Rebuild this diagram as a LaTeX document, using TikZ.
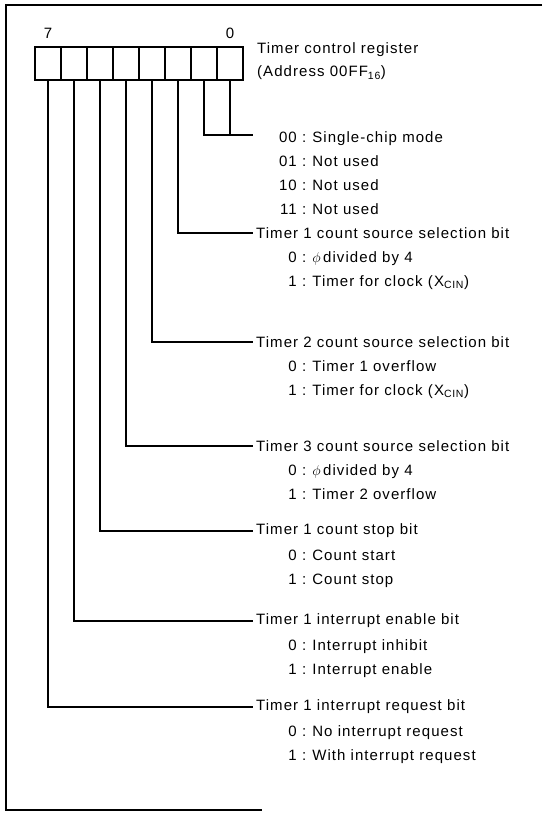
\documentclass[tikz,border=0pt]{standalone}
\usepackage{fontspec}
\setmainfont{Liberation Sans}[LetterSpace=7]
\usepackage{tikz}
\usetikzlibrary{positioning}

\begin{document}
\begin{tikzpicture}[x=1pt, y=-1pt, font=\fontsize{15}{17}\selectfont,
    cell/.style={draw, line width=1.5pt, minimum width=26pt, minimum height=33pt, inner sep=0pt},
    wire/.style={line width=1.1pt},
    head/.style={anchor=west, inner sep=3pt},
    code/.style={anchor=base east, inner sep=1pt},
    desc/.style={anchor=base west, inner sep=1pt}]
    \useasboundingbox (0,0) rectangle (542,817);
    % Frame (open on the right)
    \draw[line width=2.4pt] (542,5) -- (6,5) -- (6,810) -- (262,810);
    % Register cells, bit 7 on the left
    \foreach \i in {0,...,7}
        \node[cell] (b\i) at ({48+(7-\i)*26},63.5) {};
    \node[above=4pt of b7] (n7) {7};
    \node[above=4pt of b0] (n0) {0};
    \node[head] (reg) at (254,50) {Timer control register};
    \node[head] (adr) at (254,73) {(Address 00FF\textsubscript{16})};
    % Bits 1 and 0
    \coordinate (m10) at (253,135);
    \draw[wire] (b1.south) |- (m10);
    \draw[wire] (b0.south) -- (b0.south |- m10);
    \node[code] (c00) at (298,142) {00}; \node[desc] (d00) at (c00.base east) {\hspace{3pt}:\hspace{6pt}Single-chip mode};
    \node[code] (c01) at (298,166) {01}; \node[desc] (d01) at (c01.base east) {\hspace{3pt}:\hspace{6pt}Not used};
    \node[code] (c10) at (298,190) {10}; \node[desc] (d10) at (c10.base east) {\hspace{3pt}:\hspace{6pt}Not used};
    \node[code] (c11) at (298,214) {11}; \node[desc] (d11) at (c11.base east) {\hspace{3pt}:\hspace{6pt}Not used};
    % Bit 2
    \node[head] (hd2) at (253,233) {Timer 1 count source selection bit};
    \draw[wire] (b2.south) |- (hd2.west);
    \node[code] (c20) at (298,262) {0}; \node[desc] (d20) at (c20.base east) {\hspace{3pt}:\hspace{6pt}$\phi$\,divided by 4};
    \node[code] (c21) at (298,286) {1}; \node[desc] (d21) at (c21.base east) {\hspace{3pt}:\hspace{6pt}Timer for clock (X\textsubscript{CIN})};
    % Bit 3
    \node[head] (hd3) at (253,342) {Timer 2 count source selection bit};
    \draw[wire] (b3.south) |- (hd3.west);
    \node[code] (c30) at (298,371) {0}; \node[desc] (d30) at (c30.base east) {\hspace{3pt}:\hspace{6pt}Timer 1 overflow};
    \node[code] (c31) at (298,395) {1}; \node[desc] (d31) at (c31.base east) {\hspace{3pt}:\hspace{6pt}Timer for clock (X\textsubscript{CIN})};
    % Bit 4
    \node[head] (hd4) at (253,446) {Timer 3 count source selection bit};
    \draw[wire] (b4.south) |- (hd4.west);
    \node[code] (c40) at (298,475) {0}; \node[desc] (d40) at (c40.base east) {\hspace{3pt}:\hspace{6pt}$\phi$\,divided by 4};
    \node[code] (c41) at (298,499) {1}; \node[desc] (d41) at (c41.base east) {\hspace{3pt}:\hspace{6pt}Timer 2 overflow};
    % Bit 5
    \node[head] (hd5) at (253,531) {Timer 1 count stop bit};
    \draw[wire] (b5.south) |- (hd5.west);
    \node[code] (c50) at (298,560) {0}; \node[desc] (d50) at (c50.base east) {\hspace{3pt}:\hspace{6pt}Count start};
    \node[code] (c51) at (298,584) {1}; \node[desc] (d51) at (c51.base east) {\hspace{3pt}:\hspace{6pt}Count stop};
    % Bit 6
    \node[head] (hd6) at (253,621) {Timer 1 interrupt enable bit};
    \draw[wire] (b6.south) |- (hd6.west);
    \node[code] (c60) at (298,650) {0}; \node[desc] (d60) at (c60.base east) {\hspace{3pt}:\hspace{6pt}Interrupt inhibit};
    \node[code] (c61) at (298,674) {1}; \node[desc] (d61) at (c61.base east) {\hspace{3pt}:\hspace{6pt}Interrupt enable};
    % Bit 7
    \node[head] (hd7) at (253,707) {Timer 1 interrupt request bit};
    \draw[wire] (b7.south) |- (hd7.west);
    \node[code] (c70) at (298,736) {0}; \node[desc] (d70) at (c70.base east) {\hspace{3pt}:\hspace{6pt}No interrupt request};
    \node[code] (c71) at (298,760) {1}; \node[desc] (d71) at (c71.base east) {\hspace{3pt}:\hspace{6pt}With interrupt request};
\end{tikzpicture}
\end{document}
